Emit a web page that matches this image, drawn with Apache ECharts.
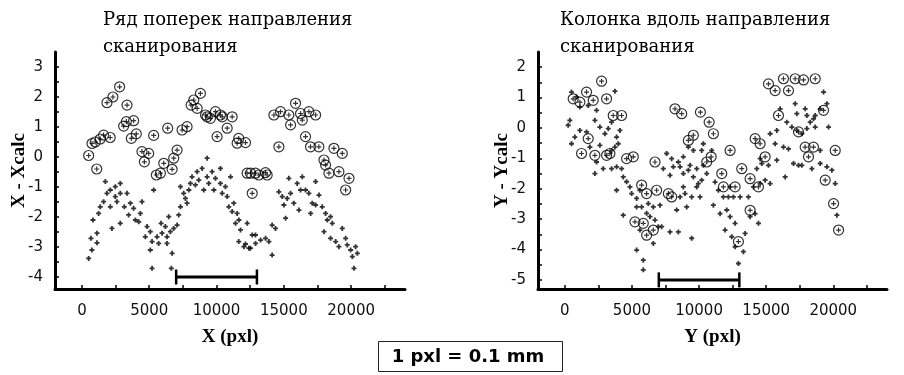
<!DOCTYPE html>
<html>
<head>
<meta charset="utf-8">
<script src="https://cdn.jsdelivr.net/npm/echarts@6/dist/echarts.min.js"></script>
<style>
  html, body { margin: 0; padding: 0; background: #fff; }
  #chart { width: 904px; height: 375px; }
</style>
</head>
<body>
<div id="chart"></div>
<script>
// Residuals across the scan direction: X - Xcalc versus X (pxl)
const rowCircles = [
  [500,0.05],[750,0.45],[990,0.5],[1100,-0.4],[1360,0.6],[1610,0.73],[2100,0.65],[1860,1.81],[2300,2.0],[2800,2.34],
  [3350,1.73],[3300,1.18],[3100,1.03],[3840,1.21],[3670,0.62],[4040,0.77],[4460,0.18],[4640,-0.16],[4960,0.12],[5330,0.72],
  [5530,-0.6],[5830,-0.54],[6080,-0.21],[6370,0.96],[6700,-0.41],[6820,-0.04],[7070,0.23],[7440,0.9],[7810,1.01],[8110,1.73],
  [8310,1.9],[8560,1.62],[8800,2.12],[9180,1.4],[9300,1.34],[9550,1.29],[9920,1.51],[10040,0.68],[10290,1.4],[10420,1.34],
  [10790,0.96],[11160,1.34],[11530,0.46],[11650,0.62],[12150,0.48],[12270,-0.54],[12520,-0.54],[12650,-1.21],[12890,-0.54],[13140,-0.6],
  [13640,-0.52],[13760,-0.6],[14260,1.4],[14630,0.34],[14750,1.51],[15370,1.4],[15500,1.07],[15870,1.79],[16240,1.45],[16370,1.23],
  [16610,0.68],[16860,1.51],[16980,0.34],[17360,1.4],[17600,0.34],[17980,-0.1],[18100,-0.27],[18350,-0.54],[18720,0.29],[19090,-0.49],
  [19340,0.12],[19590,-1.1],[19840,-0.71]
];
const rowCrosses = [
  [500,-3.38],[740,-3.1],[670,-2.71],[1120,-2.86],[1120,-2.54],[820,-2.1],[1240,-1.88],[1360,-1.66],[1610,-1.49],[1740,-0.82],
  [1860,-1.21],[2110,-1.1],[2480,-0.99],[2480,-1.32],[2850,-0.88],[2850,-1.21],[2110,-1.66],[2600,-1.49],[2230,-2.38],[2850,-2.21],
  [3150,-1.66],[3350,-1.21],[3600,-1.54],[3470,-1.93],[3840,-1.71],[3970,-2.1],[4340,-1.88],[4220,-2.16],[4460,-1.49],[4840,-2.32],
  [4710,-2.66],[5080,-2.49],[5210,-2.82],[5080,-3.1],[5330,-1.1],[5580,-2.66],[5700,-2.88],[5880,-2.21],[5950,-2.54],[6200,-2.32],
  [6320,-2.66],[6450,-1.99],[6570,-2.49],[6700,-3.21],[5210,-3.71],[6640,-3.71],[6320,-2.88],[6820,-2.38],[7070,-2.27],[7190,-1.93],
  [7320,-1.66],[7320,-0.99],[7560,-1.21],[7690,-1.38],[7810,-1.54],[7940,-1.1],[8060,-0.88],[8180,-0.66],[8430,-0.93],[8560,-0.49],
  [8680,-0.77],[8930,-0.38],[9050,-1.1],[9300,-0.04],[9300,-0.66],[9420,-0.88],[9670,-0.49],[9800,-1.1],[9920,-0.71],[10290,-0.38],
  [10290,-0.88],[10420,-1.21],[10660,-0.99],[10790,-1.32],[10910,-1.66],[11040,-0.66],[11160,-1.82],[11280,-1.54],[11410,-2.21],[11530,-1.88],
  [11660,-2.1],[11780,-2.43],[11650,-2.82],[12030,-2.99],[12150,-2.9],[12280,-2.21],[12400,-3.04],[12520,-3.04],[12650,-2.6],[12890,-2.6],
  [12900,-2.88],[13270,-2.77],[13640,-2.71],[13890,-2.82],[14130,-2.27],[14380,-2.38],[14130,-3.27],[14630,-1.16],[14880,-1.32],[15000,-1.6],
  [15130,-2.04],[15250,-1.38],[15370,-0.71],[15500,-1.21],[15740,-1.54],[15990,-0.88],[16120,-1.77],[16240,-1.1],[16370,-0.66],[16610,-1.1],
  [16860,-1.21],[16990,-1.88],[17110,-1.54],[17360,-1.6],[17360,-0.82],[17610,-1.27],[17850,-1.66],[17980,-2.49],[18100,-1.88],[18230,-2.1],
  [18470,-1.99],[18600,-2.21],[18470,-2.71],[18850,-2.82],[19090,-2.99],[19340,-2.38],[19590,-2.71],[19710,-2.93],[19960,-3.1],[20090,-3.32],
  [20330,-2.99],[20210,-3.71],[20460,-3.21]
];

// Residuals along the scan direction: Y - Ycalc versus Y (pxl)
const colCircles = [
  [622,0.96],[1119,0.85],[1617,1.18],[2114,0.91],[2736,1.54],[3109,0.96],[3606,0.41],[4228,0.41],[1741,-0.35],[1244,-0.84],
  [2238,-0.9],[3109,-0.9],[3358,-0.84],[4601,-1.01],[5098,-0.95],[6715,-1.12],[5720,-1.88],[6093,-2.16],[6839,-2.05],[7710,-2.16],
  [7958,-2.27],[5223,-3.09],[5845,-3.14],[6093,-3.53],[6590,-3.36],[8207,0.63],[8704,0.47],[9201,-0.41],[9575,-0.24],[10100,0.52],
  [10750,0.19],[11066,-0.19],[10570,-1.12],[10900,-0.95],[12310,-0.74],[13180,-1.34],[13802,-1.67],[14424,-1.94],[11812,-1.94],[12683,-1.94],
  [11688,-1.5],[13802,-2.71],[12931,-3.74],[14175,-0.35],[14548,-0.52],[14921,-0.95],[15170,1.45],[15667,1.23],[16288,1.62],[16661,1.23],
  [17158,1.62],[17780,1.58],[18650,1.62],[19273,0.58],[15915,0.41],[17407,-0.13],[17904,-0.63],[18152,-0.95],[18525,-0.63],[20143,-0.74],
  [19397,-1.72],[20019,-2.49],[20392,-3.36]
];
const colCrosses = [
  [497,1.18],[870,1.02],[1119,0.69],[1741,0.74],[2363,0.58],[3731,1.21],[373,0.25],[249,0.09],[746,-0.3],[497,-0.52],
  [1119,-0.08],[1617,-0.13],[2238,0.25],[2611,0.03],[2984,-0.19],[3233,-0.02],[3482,0.19],[3855,-0.3],[4104,-0.08],[3731,-0.63],
  [3979,-0.52],[3482,-0.74],[2611,-0.57],[1865,-0.63],[2363,-1.12],[2860,-1.34],[3482,-1.34],[3855,-1.28],[2238,-1.5],[4352,-1.61],
  [4601,-1.77],[4228,-1.34],[3855,-2.05],[4850,-1.94],[4974,-2.16],[5347,-2.32],[5596,-2.05],[4352,-2.87],[5347,-2.6],[5720,-2.6],
  [6218,-2.49],[6591,-2.6],[7088,-2.54],[6093,-2.81],[6342,-2.92],[6715,-3.03],[5596,-3.36],[6964,-3.25],[7213,-3.25],[7834,-3.42],
  [8456,-3.42],[5347,-4.02],[5845,-4.35],[5845,-4.67],[6591,-3.8],[7585,-0.84],[7958,-1.01],[8083,-1.28],[8456,-1.12],[8580,-1.28],
  [7337,-1.34],[7834,-1.56],[8829,-1.5],[9201,-1.39],[9574,-1.61],[9823,-1.94],[8829,-1.94],[8580,-2.27],[8953,-2.16],[8331,-2.7],
  [9077,-2.6],[9450,-2.27],[10072,-2.27],[10196,-1.72],[9201,-0.63],[9574,-0.74],[10196,-0.74],[10570,-1.5],[9450,-3.63],
  [8828,-0.95],[9325,-1.23],[9823,-1.34],[9947,-1.83],[10320,-0.52],[10942,-0.74],[10320,-1.23],[11190,-1.78],[11439,-2.05],[11812,-2.27],
  [12310,-1.94],[12185,-2.27],[12558,-2.27],[13056,-2.27],[11066,-2.54],[11563,-2.82],[12061,-2.7],[11936,-3.36],[12310,-2.92],[12683,-3.14],
  [12434,-3.58],[12683,-3.91],[12931,-4.46],[13304,-4.07],[13429,-3.47],[13802,-2.92],[14175,-2.82],[14424,-3.14],[13678,-2.27],[14051,-1.94],
  [14548,-1.83],[14921,-1.72],[15294,-1.83],[14299,-1.34],[14672,-1.17],[15170,-1.23],[15791,-1.06],[16413,-1.61],[14548,-1.01],[15294,-0.19],
  [15791,-0.08],[15667,-0.52],[16288,-0.63],[16537,0.19],[16910,0.03],[17283,-0.08],[17656,-0.19],[18030,-0.02],[18279,0.19],[18652,0.03],
  [16040,0.63],[17159,0.8],[17905,0.63],[17283,0.47],[18030,0.41],[18527,0.3],[18652,0.41],[19024,0.63],[19522,0.8],[19646,0.03],
  [19273,1.18],[16661,-0.69],[17034,-1.17],[17407,-1.23],[17656,-1.23],[18403,-1.34],[19024,-0.74],[19024,-1.17],[19522,-1.28],[19895,-1.39],
  [20143,-1.83],[20268,-2.87]
];

// Scale bars (pixel units)
const rowScaleBar = [[7000,-4],[13000,-4]];
const colScaleBar = [[7000,-5],[13000,-5]];

// Axis ranges, ticks and labels
const xRange = [-2000, 24000];
const xTickValues = [0,2500,5000,7500,10000,12500,15000,17500,20000,22500];
const xLabelValues = [0,5000,10000,15000,20000];
const rowYRange = [-4.4, 3.5];
const rowYLabels = [-4,-3,-2,-1,0,1,2,3];
const rowYTicks = [-4,-3.5,-3,-2.5,-2,-1.5,-1,-0.5,0,0.5,1,1.5,2,2.5,3];
const colYRange = [-5.3, 2.5];
const colYLabels = [-5,-4,-3,-2,-1,0,1,2];
const colYTicks = [-5,-4.5,-4,-3.5,-3,-2.5,-2,-1.5,-1,-0.5,0,0.5,1,1.5,2];

const titles = ['Ряд поперек направления\nсканирования', 'Колонка вдоль направления\nсканирования'];
const xNames = ['X (pxl)', 'Y (pxl)'];
const yNames = ['X - Xcalc', 'Y - Ycalc'];
const noteText = '1 pxl = 0.1 mm';

const circleSymbol = 'path://M10,0A10,10,0,1,1,-10,0A10,10,0,1,1,10,0Z M-5,0L5,0 M0,-5L0,5';
const crossSymbol = 'path://M-1,0L1,0M0,-1L0,1';

const tickFont = { fontFamily: 'DejaVu Sans', fontSize: 15, color: '#111' };
const nameFont = { fontFamily: 'Liberation Serif', fontSize: 19, fontWeight: 'bold', color: '#000' };
const titleFont = { fontFamily: 'DejaVu Serif', fontSize: 18, fontWeight: 'normal', color: '#000', lineHeight: 27 };

function plain(v) { return String(v); }

function xAxisFor(gridIndex, name) {
  return {
    type: 'value', gridIndex, min: xRange[0], max: xRange[1],
    name, nameLocation: 'middle', nameGap: 39, nameTextStyle: nameFont,
    axisLine: { show: true, onZero: false, lineStyle: { color: '#000', width: 3 } },
    axisTick: { show: true, inside: true, length: 4, lineStyle: { color: '#000', width: 1.5 }, customValues: xTickValues },
    axisLabel: { show: true, margin: 15, customValues: xLabelValues, formatter: plain, ...tickFont },
    splitLine: { show: false }
  };
}
function yAxisFor(gridIndex, name, range, labels, ticks) {
  return {
    type: 'value', gridIndex, min: range[0], max: range[1],
    name, nameLocation: 'middle', nameGap: 26, nameMoveOverlap: false, nameTextStyle: nameFont,
    axisLine: { show: true, onZero: false, lineStyle: { color: '#000', width: 3 } },
    axisTick: { show: true, inside: true, length: 4, lineStyle: { color: '#000', width: 1.5 }, customValues: ticks },
    axisLabel: { show: true, margin: 12, customValues: labels, formatter: plain, ...tickFont },
    splitLine: { show: false }
  };
}
function circleSeries(i, data) {
  return {
    type: 'scatter', xAxisIndex: i, yAxisIndex: i, data,
    symbol: circleSymbol, symbolSize: 10,
    itemStyle: { color: 'rgba(0,0,0,0)', borderColor: '#000', borderWidth: 1.2 },
    silent: true
  };
}
function crossSeries(i, data) {
  return {
    type: 'scatter', xAxisIndex: i, yAxisIndex: i, data,
    symbol: crossSymbol, symbolSize: 5,
    itemStyle: { color: 'rgba(0,0,0,0)', borderColor: '#000', borderWidth: 1.8 },
    silent: true
  };
}
function barSeries(i, data) {
  return {
    type: 'line', xAxisIndex: i, yAxisIndex: i, data,
    symbol: 'rect', symbolSize: [2.5, 15], showSymbol: true,
    lineStyle: { color: '#000', width: 3 }, itemStyle: { color: '#000' },
    silent: true
  };
}

const chart = echarts.init(document.getElementById('chart'), null, { renderer: 'canvas' });
chart.setOption({
  animation: false,
  backgroundColor: '#fff',
  title: [
    { text: titles[0], left: 98, top: 2, textStyle: titleFont },
    { text: titles[1], left: 555, top: 2, textStyle: titleFont }
  ],
  grid: [
    { left: 55, top: 52, width: 350, height: 237 },
    { left: 538, top: 52, width: 349, height: 237 }
  ],
  xAxis: [xAxisFor(0, xNames[0]), xAxisFor(1, xNames[1])],
  yAxis: [
    yAxisFor(0, yNames[0], rowYRange, rowYLabels, rowYTicks),
    yAxisFor(1, yNames[1], colYRange, colYLabels, colYTicks)
  ],
  series: [
    circleSeries(0, rowCircles), crossSeries(0, rowCrosses), barSeries(0, rowScaleBar),
    circleSeries(1, colCircles), crossSeries(1, colCrosses), barSeries(1, colScaleBar)
  ],
  graphic: [
    { type: 'rect', shape: { x: 378.5, y: 341.5, width: 184, height: 30 }, style: { fill: '#fff', stroke: '#222', lineWidth: 1 } },
    { type: 'text', x: 468, y: 357, style: { text: noteText, x: 0, y: 0, align: 'center', verticalAlign: 'middle', font: 'bold 18px "DejaVu Sans"', fill: '#000' } }
  ]
});
</script>
</body>
</html>
